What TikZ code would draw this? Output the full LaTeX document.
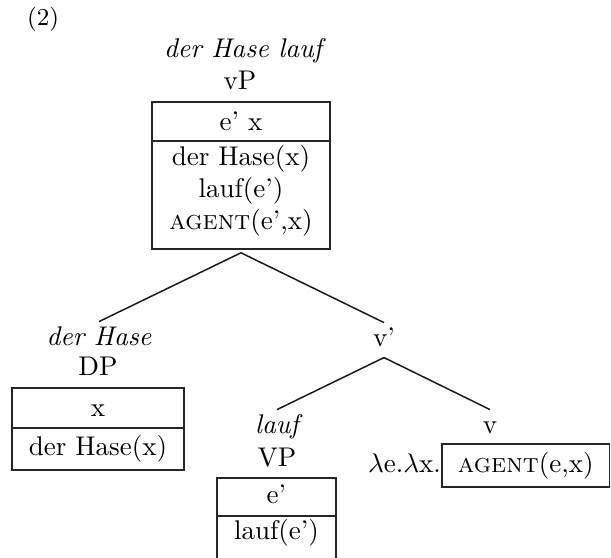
\documentclass[tikz,border=0pt]{standalone}
\usepackage{fontspec}
\begin{document}
\begin{tikzpicture}[x=0.37pt,y=-0.37pt,
  lab/.style={anchor=base,inner sep=2pt,text height=1.5ex,text depth=0.25ex},
  txt/.style={anchor=base,inner sep=0pt},
  drsbox/.style={draw=black!85,line width=0.55pt,inner sep=0pt,outer sep=0pt},
  sep/.style={draw=black!85,line width=0.55pt},
  branch/.style={draw=black!90,line width=0.55pt}]
\useasboundingbox (0,0) rectangle (611,557);
% example number
\node[txt] (num) at (43,25) {\fontsize{9}{11}\selectfont (2)};
% top vP
\node[lab] (toplab) at (243,57) {\itshape der Hase lauf};
\node[lab] (vPlab) at (240,89) {vP};
\node[drsbox,minimum width=65.86pt,minimum height=54.39pt] (vPbox) at (241,175.5) {};
\draw[sep] (vPbox.west |- 0,141) -- (vPbox.east |- 0,141);
\node[txt] (vPu) at (241,130) {e' x};
\node[txt] (vPc1) at (241,165) {der Hase(x)};
\node[txt] (vPc2) at (241,197) {lauf(e')};
\node[txt] (vPc3) at (241,229) {\textsc{agent}(e',x)};
% DP
\node[lab] (haseLab) at (99,345) {\itshape der Hase};
\node[lab] (DPlab) at (98,375) {DP};
\node[drsbox,minimum width=63.64pt,minimum height=30.34pt] (DPbox) at (98,429) {};
\draw[sep] (DPbox.west |- 0,428) -- (DPbox.east |- 0,428);
\node[txt] (DPu) at (98,416) {x};
\node[txt] (DPc) at (98,455) {der Hase(x)};
% v'
\node[lab] (vbarLab) at (384,346) {v'};
% VP
\node[lab] (laufLab) at (277,433) {\itshape lauf};
\node[lab] (VPlab) at (277,466) {VP};
\node[drsbox,minimum width=44.03pt,minimum height=29.97pt] (VPbox) at (276.5,518.5) {};
\draw[sep] (VPbox.west |- 0,516) -- (VPbox.east |- 0,516);
\node[txt] (VPu) at (276.5,503) {e'};
\node[txt] (VPc) at (276.5,539) {lauf(e')};
% v
\node[lab] (vLab) at (490,433) {v};
\node[txt,anchor=base east] (lam) at (441.5,472) {$\lambda$e.$\lambda$x.};
\node[drsbox,minimum width=61.98pt,minimum height=15.91pt] (agBox) at (525.75,465.5) {};
\node[txt] (agTxt) at (525.75,472) {\textsc{agent}(e,x)};
% branches
\draw[branch] ([yshift=-1.4pt]vPbox.south) -- (haseLab.north);
\draw[branch] ([yshift=-1.4pt]vPbox.south) -- (vbarLab.north);
\draw[branch] ([yshift=-1pt]vbarLab.south) -- (laufLab.north);
\draw[branch] ([yshift=-1pt]vbarLab.south) -- (vLab.north);
\end{tikzpicture}
\end{document}
